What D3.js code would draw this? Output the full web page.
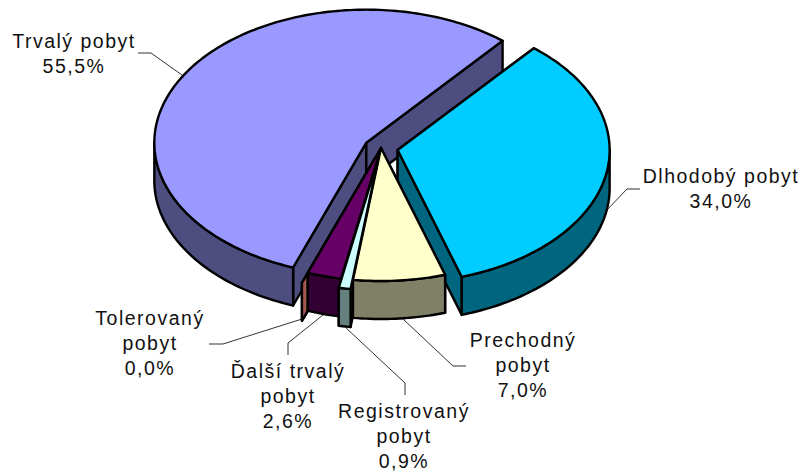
<!DOCTYPE html>
<html><head><meta charset="utf-8">
<script src="https://cdn.jsdelivr.net/npm/d3@7"></script>
<style>html,body{margin:0;background:#fff}svg{display:block}
text{font-family:"Liberation Sans",Arial,sans-serif;font-size:19.5px;letter-spacing:1.5px;fill:#111}</style>
</head><body><svg id="c" width="803" height="473"></svg>
<script>
const categories=["Trvalý pobyt","Dlhodobý pobyt","Prechodný pobyt","Registrovaný pobyt","Ďalší trvalý pobyt","Tolerovaný pobyt"];
const values=[55.5,34.0,7.0,0.9,2.6,0.0];
const valueLabels=["55,5%","34,0%","7,0%","0,9%","2,6%","0,0%"];
const explode=[0.08,0.08,0,0.07,0,0.08];
const topColors=["#9999FF","#00CCFF","#FFFFCC","#CCFFFF","#660066","#FF8080"];
const wallColors=["#4D4D80","#006680","#808066","#668080","#330033","#A5584F"];
// painter's order: [slice index, parts]
const drawOrder=[[0,"cot"],[1,"cot"],[5,"cot"],[4,"cot"],[3,"c"],[2,"cot"],[3,"ot"]];
const labelLines=[["Trvalý pobyt","55,5%"],["Dlhodobý pobyt","34,0%"],["Prechodný","pobyt","7,0%"],["Registrovaný","pobyt","0,9%"],["Ďalší trvalý","pobyt","2,6%"],["Tolerovaný","pobyt","0,0%"]];
const labelPos=[[74,48],[721,183],[523,347],[404,418],[288,378],[150,325]];
const leaders=[[[138,53],[151,53],[182,75]],[[640,189],[627,189],[606,211]],[[466,366],[453,366],[403,319]],[[405,395],[405,383],[345,327]],[[288,355],[288,343],[323,315]],[[209,344],[223,344],[302,319]]];
const cx=381,cy=148,rx=212,ry=133,depth=38,startDeg=200.2;

const svg=d3.select("#c");
const X=d3.scaleLinear().domain([-1,1]).range([cx-rx,cx+rx]);
const Y=d3.scaleLinear().domain([-1,1]).range([cy+ry,cy-ry]);
const start=startDeg*Math.PI/180;
const arcs=d3.pie().sort(null).value(d=>d).startAngle(start).endAngle(start+2*Math.PI)(values);
const line=d3.line();
function pt(a,e,r,dz){return [X(e.x+r*Math.sin(a)),Y(e.y+r*Math.cos(a))+dz];}
function arcPts(a0,a1,e,dz){const n=Math.max(2,Math.ceil(Math.abs(a1-a0)/0.02));
  return d3.range(n+1).map(i=>pt(a0+(a1-a0)*i/n,e,1,dz));}
function face(pts,fill){return svg.append("path").attr("d",line(pts)+"Z").attr("fill",fill)
  .attr("stroke","#000").attr("stroke-width",2.4).attr("stroke-linejoin","round");}
leaders.forEach(L=>{
  svg.append("path").attr("d",line(L)).attr("fill","none").attr("stroke","#333").attr("stroke-width",1);
});
drawOrder.forEach(([i,parts])=>{
  const d=arcs[i],a0=d.startAngle,a1=d.endAngle,mid=(a0+a1)/2;
  const e={x:explode[i]*Math.sin(mid),y:explode[i]*Math.cos(mid)};
  const apex=pt(0,e,0,0),apexB=pt(0,e,0,depth);
  const wall=wallColors[i],top=topColors[i];
  if(parts.includes("c"))[a0,a1].forEach(a=>{face([apex,pt(a,e,1,0),pt(a,e,1,depth),apexB],wall);});
  const tau=2*Math.PI;
  if(parts.includes("o"))[[Math.PI/2,3*Math.PI/2],[Math.PI/2+tau,3*Math.PI/2+tau]].forEach(([lo,hi])=>{
    const s=Math.max(a0,lo),t=Math.min(a1,hi);
    if(t>s) face(arcPts(s,t,e,0).concat(arcPts(t,s,e,depth)),wall);
  });
  if(parts.includes("t")&&a1>a0) face([apex].concat(arcPts(a0,a1,e,0)),top);
});
labelLines.forEach((ls,i)=>{
  const t=svg.append("text").attr("text-anchor","middle");
  ls.forEach((s,j)=>t.append("tspan").attr("x",labelPos[i][0]).attr("y",labelPos[i][1]+j*25).text(s));
});
</script></body></html>
